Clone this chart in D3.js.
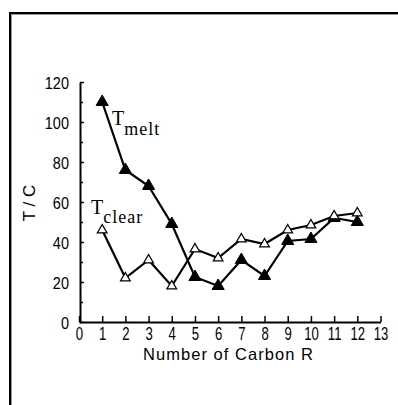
<!DOCTYPE html>
<html><head><meta charset="utf-8">
<script src="https://cdn.jsdelivr.net/npm/d3@7"></script>
<style>body{margin:0;background:#fff}svg{display:block}</style>
</head><body>
<script>
const carbon = [1,2,3,4,5,6,7,8,9,10,11,12];
const tMelt  = [110,76,68,49,22.5,18,31,23,40.5,41.5,52,50];
const tClear = [46,22,31,18,36.5,32,41.5,39,46,48.5,53,54.5];
const xTicks = [0,1,2,3,4,5,6,7,8,9,10,11,12,13];
const yTicks = [0,20,40,60,80,100,120];
const yMinor = [10,30,50,70,90,110];

const W=398,H=405;
const svg=d3.select("body").append("svg").attr("width",W).attr("height",H);
// frame
svg.append("line").attr("x1",10).attr("x2",W).attr("y1",13).attr("y2",13).attr("stroke","#000").attr("stroke-width",2);
svg.append("line").attr("x1",10).attr("x2",10).attr("y1",12).attr("y2",H).attr("stroke","#000").attr("stroke-width",2);
svg.append("line").attr("x1",11).attr("x2",W).attr("y1",14.5).attr("y2",14.5).attr("stroke","#999").attr("stroke-width",1);
svg.append("line").attr("x1",11.5).attr("x2",11.5).attr("y1",14).attr("y2",H).attr("stroke","#999").attr("stroke-width",1);

const x=d3.scaleLinear().domain([0,13]).range([79,380.5]);
const y=d3.scaleLinear().domain([0,120]).range([322,82]);
const font="'Liberation Sans', Arial, sans-serif";

const xa=svg.append("g").attr("transform","translate(0,322)")
  .call(d3.axisBottom(x).tickValues(xTicks).tickFormat(d3.format("d")).tickSizeInner(-6).tickSizeOuter(0).tickPadding(5));
xa.selectAll("text").attr("font-family",font).attr("font-size",17.5).attr("fill","#000")
  .attr("y",18).attr("dy",0).attr("transform","scale(0.75,1)");
const ya=svg.append("g").attr("transform","translate(80,0)")
  .call(d3.axisLeft(y).tickValues(yTicks).tickFormat(d3.format("d")).tickSizeInner(-4).tickSizeOuter(0).tickPadding(8));
ya.selectAll("text").attr("font-family",font).attr("font-size",16.3).attr("fill","#000")
  .attr("x",-12.4).attr("y",6.3).attr("dy",0).attr("transform","scale(0.89,1)");
svg.append("g").attr("transform","translate(80,0)")
  .call(d3.axisLeft(y).tickValues(yMinor).tickFormat("").tickSizeInner(-3).tickSizeOuter(0))
  .select(".domain").remove();
svg.selectAll(".domain").attr("stroke","#000").attr("stroke-width",2);
svg.selectAll(".tick line").attr("stroke","#000").attr("stroke-width",1.5);

const line=d3.line().x((d,i)=>x(carbon[i])).y(d=>y(d));
svg.append("path").datum(tMelt).attr("d",line).attr("fill","none").attr("stroke","#000").attr("stroke-width",2.2);
svg.append("path").datum(tClear).attr("d",line).attr("fill","none").attr("stroke","#000").attr("stroke-width",2.2);

svg.append("g").selectAll("path").data(tMelt).join("path")
  .attr("d",d3.symbol().type(d3.symbolTriangle).size(64)()).attr("transform",(d,i)=>`translate(${x(carbon[i])},${y(d)})`)
  .attr("fill","#000").attr("stroke","#000").attr("stroke-width",1);
svg.append("g").selectAll("path").data(tClear).join("path")
  .attr("d",d3.symbol().type(d3.symbolTriangle).size(40)()).attr("transform",(d,i)=>`translate(${x(carbon[i])},${y(d)})`)
  .attr("fill","#fff").attr("stroke","#000").attr("stroke-width",1.3);

// series labels
const serif="'Liberation Serif','Times New Roman',serif";
const l1=svg.append("text").attr("x",112).attr("y",125).attr("font-family",serif).attr("font-size",20).attr("fill","#000");
l1.append("tspan").text("T");
l1.append("tspan").attr("font-size",18).attr("dy",10).attr("letter-spacing",1).text("melt");
const l2=svg.append("text").attr("x",91).attr("y",214).attr("font-family",serif).attr("font-size",20).attr("fill","#000");
l2.append("tspan").text("T");
l2.append("tspan").attr("font-size",18).attr("dy",9).attr("letter-spacing",1).text("clear");

// axis titles
svg.append("text").attr("x",228).attr("y",360).attr("text-anchor","middle")
  .attr("font-family",font).attr("font-size",16.5).attr("textLength",170).attr("lengthAdjust","spacing").attr("fill","#000").text("Number of Carbon R");
svg.append("text").attr("transform","translate(35,203) rotate(-90)").attr("text-anchor","middle")
  .attr("font-family",font).attr("font-size",17).attr("fill","#000").text("T / C");
</script>
</body></html>
